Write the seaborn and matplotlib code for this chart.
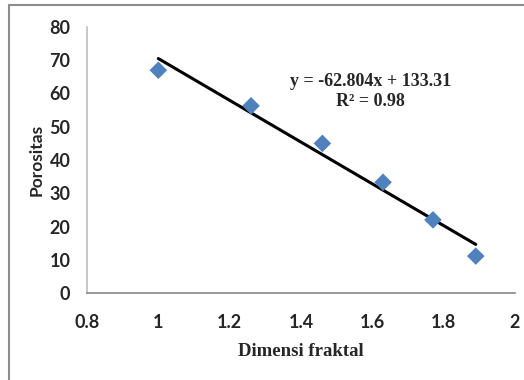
import numpy as np
import pandas as pd
import matplotlib
matplotlib.use("Agg")
import matplotlib.pyplot as plt
import seaborn as sns
from matplotlib.lines import Line2D

dimensi = [1.00, 1.26, 1.46, 1.63, 1.77, 1.89]
porositas = [67.0, 56.3, 45.0, 33.3, 22.0, 11.1]
slope, intercept = -62.804, 133.31
xticks = [0.8, 1, 1.2, 1.4, 1.6, 1.8, 2]
yticks = [0, 10, 20, 30, 40, 50, 60, 70, 80]

sns.set_style("white")
df = pd.DataFrame({"Dimensi fraktal": dimensi, "Porositas": porositas})

fig = plt.figure(figsize=(5.24, 3.80), dpi=100)
ax = fig.add_axes([87/524, 1-293/380, (515-87)/524, (293-27)/380])

xs = np.array([min(dimensi), max(dimensi)])
ax.plot(xs, slope*xs + intercept, color="black", lw=2.2, zorder=2)
sns.scatterplot(data=df, x="Dimensi fraktal", y="Porositas", marker="D", s=80,
                color="#4F81BD", edgecolor="none", ax=ax, zorder=3)

ax.set_xlim(0.8, 2)
ax.set_ylim(0, 80)
ax.set_xticks(xticks)
ax.set_xticklabels([f"{t:g}" for t in xticks])
ax.set_yticks(yticks)
ax.set_yticklabels([str(t) for t in yticks])
ax.tick_params(axis="both", length=0, labelsize=13)
ax.tick_params(axis="x", pad=15)
ax.tick_params(axis="y", pad=12)
for lab in ax.get_xticklabels() + ax.get_yticklabels():
    lab.set_fontfamily("Lato")
    lab.set_fontweight("bold")

for s in ["top", "right"]:
    ax.spines[s].set_visible(False)
ax.spines["left"].set_color("#BFBFBF")
ax.spines["bottom"].set_color("#868686")
ax.spines["left"].set_linewidth(1.2)
ax.spines["bottom"].set_linewidth(1.2)

ax.set_xlabel("")
ax.set_ylabel("")
fig.text(301/524, 1-352/380, "Dimensi fraktal", ha="center", va="center",
         fontfamily="Liberation Serif", fontweight="bold", fontsize=13.5)
fig.text(37/524, 1-160/380, "Porositas", ha="center", va="center", rotation=90,
         fontfamily="Lato", fontweight="bold", fontsize=12.5)

ax.text(1.595, 60.6, "y = -62.804x + 133.31\nR² = 0.98", ha="center", va="center",
        fontfamily="Liberation Serif", fontweight="bold", fontsize=13, linespacing=1.3)

fig.add_artist(Line2D([9/524, 1], [1-5/380, 1-5/380], transform=fig.transFigure, color="#8C8C8C", lw=1.5))
fig.add_artist(Line2D([9/524, 9/524], [0, 1-5/380], transform=fig.transFigure, color="#8C8C8C", lw=1.5))

fig.savefig("out.png", dpi=100)
